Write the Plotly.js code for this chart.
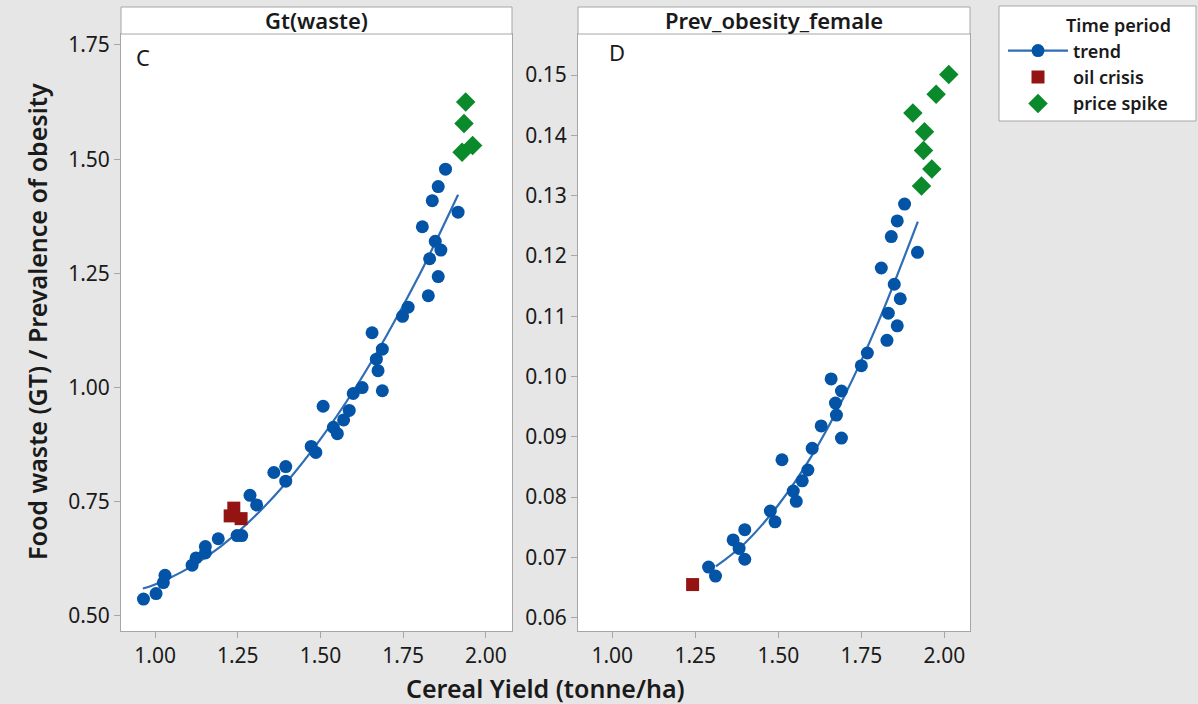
<!DOCTYPE html>
<html>
<head>
<meta charset="utf-8">
<script src="https://cdn.plot.ly/plotly-3.0.1.min.js"></script>
<style>
html,body{margin:0;padding:0;background:#e6e6e6;}
#chart{width:1198px;height:704px;}
</style>
</head>
<body>
<div id="chart"></div>
<script>
// ---------- Panel C : Gt(waste) ----------
const wasteTrendX = [0.965,1.003,1.025,1.030,1.112,1.124,1.152,1.152,1.191,1.248,1.262,1.287,1.307,1.359,1.395,1.395,1.472,1.486,1.508,1.539,1.551,1.570,1.587,1.599,1.626,1.656,1.669,1.674,1.687,1.687,1.748,1.765,1.808,1.826,1.830,1.838,1.847,1.856,1.856,1.864,1.878,1.916];
const wasteTrendY = [0.537,0.549,0.573,0.589,0.611,0.627,0.638,0.652,0.669,0.676,0.676,0.764,0.743,0.814,0.827,0.795,0.871,0.858,0.959,0.913,0.899,0.929,0.950,0.987,1.000,1.120,1.062,1.037,1.084,0.993,1.156,1.176,1.352,1.201,1.282,1.409,1.320,1.440,1.243,1.301,1.478,1.384];
const wasteOilX = [1.238,1.227,1.260];
const wasteOilY = [0.736,0.719,0.713];
const wasteSpikeX = [1.939,1.934,1.960,1.928];
const wasteSpikeY = [1.625,1.578,1.530,1.515];
const wasteFitX = [0.963,1.0,1.1,1.2,1.3,1.4,1.5,1.6,1.7,1.8,1.916];
const wasteFitY = [0.560,0.569,0.604,0.653,0.717,0.795,0.887,0.993,1.114,1.248,1.422];

// ---------- Panel D : Prev_obesity_female ----------
const obesTrendX = [1.290,1.311,1.364,1.382,1.399,1.399,1.476,1.490,1.511,1.545,1.554,1.572,1.589,1.602,1.629,1.659,1.672,1.675,1.690,1.690,1.750,1.768,1.810,1.827,1.831,1.840,1.849,1.858,1.858,1.867,1.880,1.919];
const obesTrendY = [0.0684,0.0669,0.0729,0.0715,0.0746,0.0697,0.0777,0.0759,0.0862,0.0810,0.0793,0.0827,0.0845,0.0881,0.0918,0.0996,0.0956,0.0936,0.0976,0.0898,0.1018,0.1039,0.1180,0.1060,0.1105,0.1232,0.1153,0.1258,0.1084,0.1129,0.1286,0.1206];
const obesOilX = [1.242];
const obesOilY = [0.0655];
const obesSpikeX = [2.013,1.975,1.905,1.940,1.937,1.962,1.931];
const obesSpikeY = [0.1501,0.1468,0.1437,0.1406,0.1375,0.1344,0.1316];
const obesFitX = [1.312,1.4,1.5,1.6,1.7,1.8,1.920];
const obesFitY = [0.0685,0.0724,0.0787,0.0868,0.0969,0.1089,0.1257];

const panelTitles = ["Gt(waste)", "Prev_obesity_female"];
const panelLetters = ["C", "D"];
const xTicks = [1.00,1.25,1.50,1.75,2.00];
const yTicksC = [0.50,0.75,1.00,1.25,1.50,1.75];
const yTicksD = [0.06,0.07,0.08,0.09,0.10,0.11,0.12,0.13,0.14,0.15];
const seriesNames = ["trend","oil crisis","price spike"];

const BLUE = '#0353a6', LINE = '#2f6db5', RED = '#941414', GREEN = '#0a8a2a';
const FONT = 'Noto Sans, Open Sans, sans-serif';
const TXT = '#1a1a1a', GRID = '#a6a6a6';
const W = 1198, H = 704;
const px = v => v / W, py = v => 1 - v / H;

const traces = [
  {x: wasteFitX, y: wasteFitY, xaxis:'x', yaxis:'y', mode:'lines', line:{color:LINE, width:2.2, shape:'spline'}, showlegend:false, hoverinfo:'skip'},
  {x: wasteTrendX, y: wasteTrendY, xaxis:'x', yaxis:'y', mode:'markers', marker:{color:BLUE, size:13, symbol:'circle'}, showlegend:false},
  {x: wasteOilX, y: wasteOilY, xaxis:'x', yaxis:'y', mode:'markers', marker:{color:RED, size:13, symbol:'square'}, showlegend:false},
  {x: wasteSpikeX, y: wasteSpikeY, xaxis:'x', yaxis:'y', mode:'markers', marker:{color:GREEN, size:15, symbol:'diamond'}, showlegend:false},
  {x: obesFitX, y: obesFitY, xaxis:'x2', yaxis:'y2', mode:'lines', line:{color:LINE, width:2.2, shape:'spline'}, showlegend:false, hoverinfo:'skip'},
  {x: obesTrendX, y: obesTrendY, xaxis:'x2', yaxis:'y2', mode:'markers', marker:{color:BLUE, size:13, symbol:'circle'}, name:seriesNames[0], showlegend:false},
  {x: obesOilX, y: obesOilY, xaxis:'x2', yaxis:'y2', mode:'markers', marker:{color:RED, size:13, symbol:'square'}, name:seriesNames[1], showlegend:true, legendrank:2},
  {x: obesSpikeX, y: obesSpikeY, xaxis:'x2', yaxis:'y2', mode:'markers', marker:{color:GREEN, size:15, symbol:'diamond'}, name:seriesNames[2], showlegend:true, legendrank:3},
  // legend entry for trend (line + marker)
  {x:[null], y:[null], xaxis:'x2', yaxis:'y2', mode:'lines+markers', line:{color:LINE, width:2.2}, marker:{color:BLUE, size:13}, name:seriesNames[0], showlegend:true, legendrank:1}
];

const axisCommon = {
  showgrid:false, zeroline:false, showline:true, mirror:true, linecolor:GRID, linewidth:1,
  ticks:'outside', ticklen:6, tickcolor:GRID, tickfont:{family:FONT, size:21, color:TXT}
};

const layout = {
  width: W, height: H,
  paper_bgcolor:'#e6e6e6', plot_bgcolor:'#ffffff',
  margin:{l:0, r:0, t:0, b:0},
  showlegend:true,
  xaxis: Object.assign({}, axisCommon, {domain:[px(121), px(512)], range:[0.897, 2.079], tickvals:xTicks, tickformat:'.2f', anchor:'y'}),
  yaxis: Object.assign({}, axisCommon, {domain:[py(631), py(34)], range:[0.467, 1.774], tickvals:yTicksC, tickformat:'.2f', anchor:'x'}),
  xaxis2: Object.assign({}, axisCommon, {domain:[px(578), px(970)], range:[0.897, 2.077], tickvals:xTicks, tickformat:'.2f', anchor:'y2'}),
  yaxis2: Object.assign({}, axisCommon, {domain:[py(631), py(34)], range:[0.0578, 0.1568], tickvals:yTicksD, tickformat:'.2f', anchor:'x2'}),
  legend:{
    x:px(1003), y:py(9), xanchor:'left', yanchor:'top',
    bgcolor:'rgba(0,0,0,0)', borderwidth:0,
    font:{family:FONT, size:18, color:TXT, weight:600},
    title:{text:'Time period', side:'top right', font:{family:FONT, size:18, color:TXT, weight:600}},
    traceorder:'normal', itemwidth:60, tracegroupgap:0
  },
  shapes:[
    {type:'rect', xref:'paper', yref:'paper', x0:px(121), x1:px(512), y0:py(34), y1:py(7), fillcolor:'#ffffff', line:{color:GRID, width:1}},
    {type:'rect', xref:'paper', yref:'paper', x0:px(578), x1:px(970), y0:py(34), y1:py(7), fillcolor:'#ffffff', line:{color:GRID, width:1}},
    {type:'rect', xref:'paper', yref:'paper', layer:'below', x0:px(999), x1:px(1196), y0:py(121), y1:py(6), fillcolor:'#ffffff', line:{color:GRID, width:1}}
  ],
  annotations:[
    {xref:'paper', yref:'paper', x:(px(121)+px(512))/2, y:(py(34)+py(7))/2, text:panelTitles[0], showarrow:false, xanchor:'center', yanchor:'middle', font:{family:FONT, size:22, color:TXT, weight:600}},
    {xref:'paper', yref:'paper', x:(px(578)+px(970))/2, y:(py(34)+py(7))/2, text:panelTitles[1], showarrow:false, xanchor:'center', yanchor:'middle', font:{family:FONT, size:22, color:TXT, weight:600}},
    {xref:'paper', yref:'paper', x:px(134), y:py(57), text:panelLetters[0], showarrow:false, xanchor:'left', yanchor:'middle', font:{family:FONT, size:22, color:TXT}},
    {xref:'paper', yref:'paper', x:px(607), y:py(52), text:panelLetters[1], showarrow:false, xanchor:'left', yanchor:'middle', font:{family:FONT, size:22, color:TXT}},
    {xref:'paper', yref:'paper', x:px(545), y:py(688), text:'Cereal Yield (tonne/ha)', showarrow:false, xanchor:'center', yanchor:'middle', font:{family:FONT, size:25, color:TXT, weight:600}},
    {xref:'paper', yref:'paper', x:px(37), y:py(322), text:'Food waste (GT) / Prevalence of obesity', textangle:-90, showarrow:false, xanchor:'center', yanchor:'middle', font:{family:FONT, size:25, color:TXT, weight:600}}
  ]
};

Plotly.newPlot('chart', traces, layout, {displayModeBar:false, staticPlot:true});
</script>
</body>
</html>
